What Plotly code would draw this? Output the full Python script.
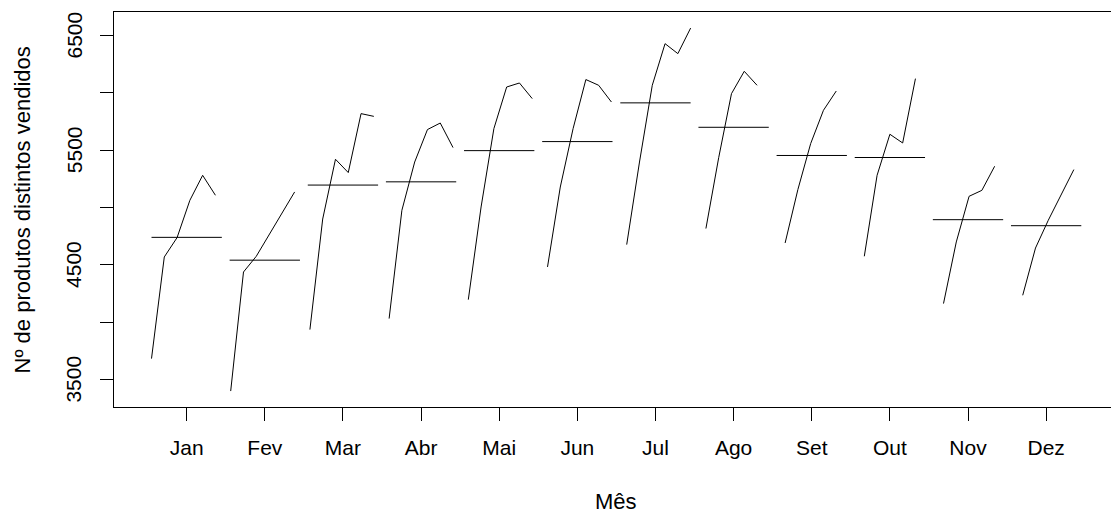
import plotly.graph_objects as go

# ---- data ----
months = ["Jan", "Fev", "Mar", "Abr", "Mai", "Jun", "Jul", "Ago", "Set", "Out", "Nov", "Dez"]
jan = [3683, 4569, 4738, 5063, 5281, 5107]
fev = [3400, 4438, 4575, 4758, 4941, 5136]
mar = [3936, 4900, 5421, 5305, 5819, 5795]
abr = [4032, 4976, 5397, 5680, 5737, 5523]
mai = [4197, 5005, 5688, 6051, 6086, 5950]
jun = [4482, 5179, 5688, 6116, 6066, 5920]
jul = [4677, 5397, 6066, 6429, 6342, 6565]
ago = [4817, 5435, 5993, 6188, 6066]
set_ = [4691, 5157, 5558, 5848, 6016]
out = [4575, 5281, 5639, 5563, 6124]
nov = [4163, 4700, 5098, 5150, 5360]
dez = [4235, 4647, 4889, 5107, 5331]
y_ticks = [3500, 4000, 4500, 5000, 5500, 6000, 6500]
y_labels = [3500, 4500, 5500, 6500]
y_title = "Nº de produtos distintos vendidos"
x_title = "Mês"

series = [jan, fev, mar, abr, mai, jun, jul, ago, set_, out, nov, dez]

# monthplot layout: position within each month follows the time index
n_total = sum(len(s) for s in series)
span = n_total - 1
FONT = "Liberation Sans, Arial, sans-serif"

fig = go.Figure()
for m, vals in enumerate(series):
    phase = m + 1
    xs = [phase - 0.45 + 0.9 * (m + 12 * k) / span for k in range(len(vals))]
    fig.add_trace(go.Scatter(x=xs, y=vals, mode="lines",
                             line=dict(color="black", width=1),
                             showlegend=False, hoverinfo="skip"))
    base = sum(vals) / len(vals)
    fig.add_trace(go.Scatter(x=[phase - 0.45, phase + 0.45], y=[base, base],
                             mode="lines", line=dict(color="black", width=1),
                             showlegend=False, hoverinfo="skip"))

annotations = [
    dict(text=str(v), xref="paper", yref="y", x=-0.0401, y=v,
         textangle=-90, showarrow=False, xanchor="center", yanchor="middle",
         font=dict(family=FONT, size=21, color="black"))
    for v in y_labels
]
annotations += [
    dict(text=y_title, xref="paper", yref="paper", x=-0.0913, y=0.5,
         textangle=-90, showarrow=False, xanchor="center", yanchor="middle",
         font=dict(family=FONT, size=22, color="black")),
    dict(text=x_title, xref="x", yref="paper", x=6.5, y=-0.24,
         showarrow=False, xanchor="center", yanchor="middle",
         font=dict(family=FONT, size=22, color="black")),
]

fig.update_layout(
    width=1111, height=516,
    margin=dict(l=114, r=0, t=12, b=109, autoexpand=False),
    paper_bgcolor="white", plot_bgcolor="white",
    font=dict(family=FONT, size=21, color="black"),
    xaxis=dict(range=[0.07, 12.83], tickvals=list(range(1, 13)), ticktext=months,
               ticks="outside", ticklen=13, tickcolor="black", tickwidth=1,
               ticklabelstandoff=9,
               showline=True, linecolor="black", linewidth=1, mirror=True,
               showgrid=False, zeroline=False, automargin=False,
               tickfont=dict(family=FONT, size=21, color="black")),
    yaxis=dict(range=[3261, 6705], tickvals=y_ticks, showticklabels=False,
               ticks="outside", ticklen=13, tickcolor="black", tickwidth=1,
               showline=True, linecolor="black", linewidth=1, mirror=False,
               showgrid=False, zeroline=False, automargin=False),
    annotations=annotations,
)

fig.write_html("out.html",
               config={"displayModeBar": False, "staticPlot": True},
               post_script="document.body.style.margin='0';document.body.style.overflow='hidden';")
